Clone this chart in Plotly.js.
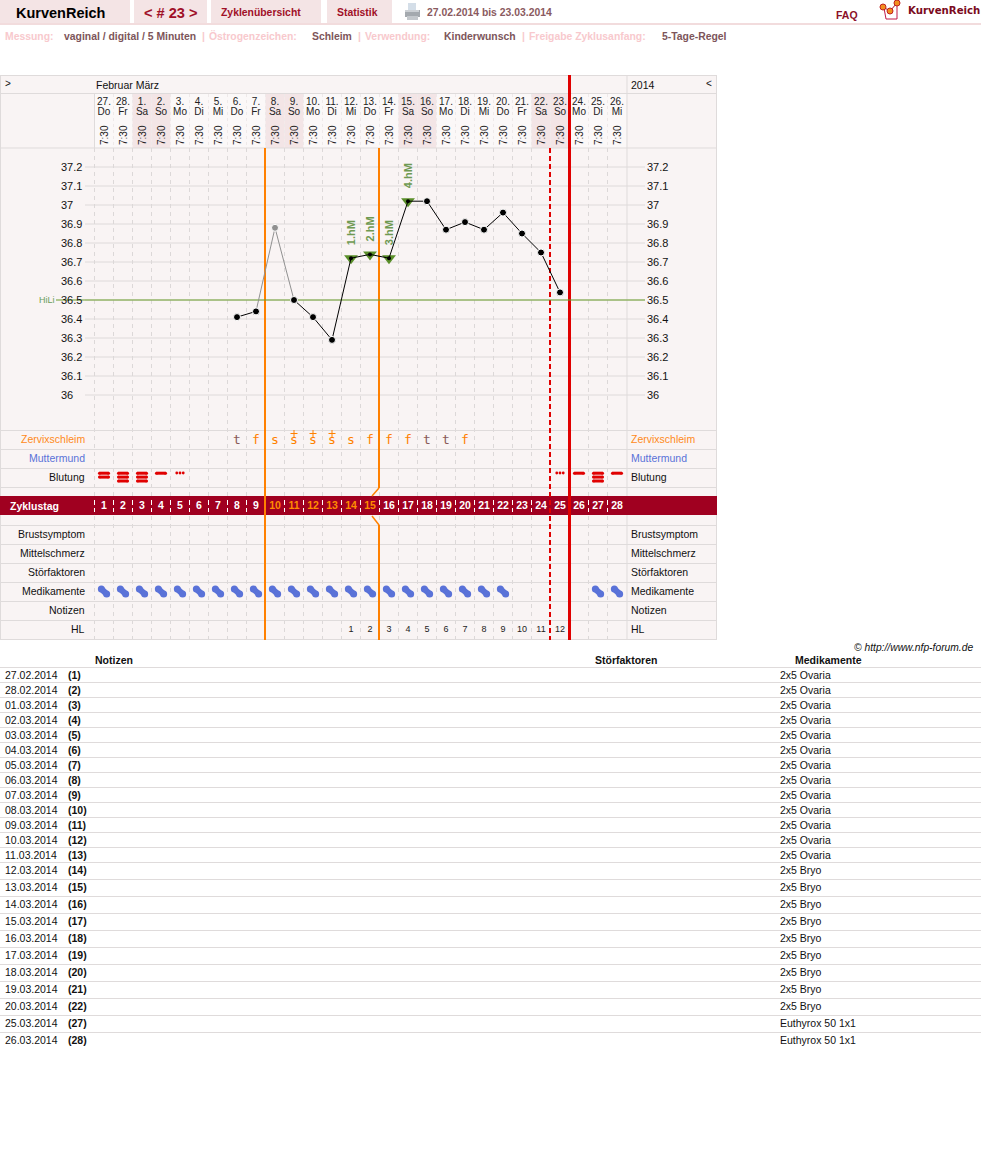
<!DOCTYPE html>
<html><head><meta charset="utf-8">
<script src="https://cdn.plot.ly/plotly-3.0.1.min.js"></script>
<style>html,body{margin:0;padding:0;background:#fff;overflow:hidden}</style>
</head><body><div id="chart" style="width:981px;height:1159px"></div>
<script>
// ---------- data ----------
const dayDates=["27.","28.","1.","2.","3.","4.","5.","6.","7.","8.","9.","10.","11.","12.","13.","14.","15.","16.","17.","18.","19.","20.","21.","22.","23.","24.","25.","26."];
const dayNames=["Do","Fr","Sa","So","Mo","Di","Mi","Do","Fr","Sa","So","Mo","Di","Mi","Do","Fr","Sa","So","Mo","Di","Mi","Do","Fr","Sa","So","Mo","Di","Mi"];
const cycleDays=[1,2,3,4,5,6,7,8,9,10,11,12,13,14,15,16,17,18,19,20,21,22,23,24,25,26,27,28];
const weekendDays=[3,4,10,11,17,18,24,25];
const tempDays=[8,9,11,12,13,14,15,16,17,18,19,20,21,22,23,24,25];
const tempVals=[36.41,36.44,36.50,36.41,36.29,36.72,36.74,36.72,37.02,37.02,36.87,36.91,36.87,36.96,36.85,36.75,36.54];
const excludedDays=[9,10,11];
const excludedVals=[36.44,36.88,36.50];
const tempTicks=[36,36.1,36.2,36.3,36.4,36.5,36.6,36.7,36.8,36.9,37,37.1,37.2];
const hiLi=36.5;
const hmDays=[14,15,16,17];
const hmVals=[36.72,36.74,36.72,37.02];
const hmLabels=["1.hM","2.hM","3.hM","4.hM"];
const mucusDays=[8,9,10,11,12,13,14,15,16,17,18,19,20];
const mucusSigns=["t","f","s","s","s","s","s","f","f","f","t","t","f"];
const mucusPlusDays=[11,12,13];
const bleedDays=[1,2,3,4,5,25,26,27,28];
const bleedLevels=[2,3,3,1,0,0,1,3,1];
const medDays=[1,2,3,4,5,6,7,8,9,10,11,12,13,14,15,16,17,18,19,20,21,22,27,28];
const hlDays=[14,15,16,17,18,19,20,21,22,23,24,25];
const hlNums=[1,2,3,4,5,6,7,8,9,10,11,12];
const leftRows=["Brustsymptom","Mittelschmerz","Störfaktoren","Medikamente","Notizen","HL"];
const noteDates=["27.02.2014","28.02.2014","01.03.2014","02.03.2014","03.03.2014","04.03.2014","05.03.2014","06.03.2014","07.03.2014","08.03.2014","09.03.2014","10.03.2014","11.03.2014","12.03.2014","13.03.2014","14.03.2014","15.03.2014","16.03.2014","17.03.2014","18.03.2014","19.03.2014","20.03.2014","25.03.2014","26.03.2014"];
const noteNums=[1,2,3,4,5,6,7,8,9,10,11,12,13,14,15,16,17,18,19,20,21,22,27,28];
const noteMeds=["2x5 Ovaria","2x5 Ovaria","2x5 Ovaria","2x5 Ovaria","2x5 Ovaria","2x5 Ovaria","2x5 Ovaria","2x5 Ovaria","2x5 Ovaria","2x5 Ovaria","2x5 Ovaria","2x5 Ovaria","2x5 Ovaria","2x5 Bryo","2x5 Bryo","2x5 Bryo","2x5 Bryo","2x5 Bryo","2x5 Bryo","2x5 Bryo","2x5 Bryo","2x5 Bryo","Euthyrox 50 1x1","Euthyrox 50 1x1"];

// ---------- geometry: one pair of axes (cycle day / temperature) spanning the page ----------
const W=981,H=1159,COL=19,X0=94.5,PXT=190,Y36=395;
const xd=p=>0.5+(p-X0)/COL;       // page px -> cycle day units
const yt=p=>36+(Y36-p)/PXT;       // page px -> temperature units
const dx=d=>X0+(d-0.5)*COL;
const SANS='"Liberation Sans",Arial,sans-serif', NARROW='"Liberation Sans Narrow","Liberation Sans",Arial,sans-serif';
const shapes=[],annos=[],traces=[];
function rect(x0,y0,x1,y1,fill){shapes.push({type:'rect',layer:'below',x0:xd(x0),x1:xd(x1),y0:yt(y0),y1:yt(y1),fillcolor:fill,line:{width:0}});}
function line(x0,y0,x1,y1,color,w,dash){shapes.push({type:'line',layer:'below',x0:xd(x0),x1:xd(x1),y0:yt(y0),y1:yt(y1),line:{color:color,width:w||1,dash:dash||'solid'}});}
function txt(x,y,s,o){o=o||{};annos.push({x:xd(x),y:yt(y),text:s,showarrow:false,xanchor:o.a||'left',yanchor:'middle',borderpad:0,borderwidth:0,textangle:o.r||0,
  font:{family:o.f||SANS,size:o.s||11,color:o.c||'#111',weight:o.b?'bold':'normal',style:o.i?'italic':'normal'}});}
function textTrace(xs,ys,ts,color,size,fam,bold){traces.push({type:'scatter',mode:'text',x:xs,y:ys,text:ts,textposition:'middle center',hoverinfo:'skip',showlegend:false,cliponaxis:false,
  textfont:{family:fam||SANS,size:size,color:color,weight:bold?'bold':'normal'}});}

// ---------- page header ----------
const TAB='#f4e4e5',BRAND='#a01028',SOFT='#f8c9cd',VAL='#7d555a';
[[0,130],[134,207],[211,321],[327,392]].forEach(t=>rect(t[0],0,t[1],23,TAB));
rect(0,23,W,25,'#f2dcdd');
txt(16,13,'KurvenReich',{s:14.5,b:1,c:'#000'});
txt(144,12.5,'&lt; # 23 &gt;',{s:14.6,b:1,c:BRAND});
txt(221,12,'Zyklenübersicht',{s:10.4,b:1,c:BRAND});
txt(337,12,'Statistik',{s:10.4,b:1,c:BRAND});
txt(427,12.5,'27.02.2014 bis 23.03.2014',{s:10.4,b:1,c:'#8a5a60'});
txt(836,14.5,'FAQ',{s:10.5,b:1,c:'#8c1028'});
txt(908,10,'KurvenReich',{s:10.2,b:1,c:'#7a0a20',f:'"DejaVu Sans",Verdana,sans-serif'});
[[5,'Messung:',1],[64,'vaginal / digital / 5 Minuten',0],[202,'|',1],[209,'Östrogenzeichen:',1],[312,'Schleim',0],[358,'|',1],[365,'Verwendung:',1],[444,'Kinderwunsch',0],[522,'|',1],[529,'Freigabe Zyklusanfang:',1],[662,'5-Tage-Regel',0]]
  .forEach(r=>txt(r[0],36,r[1],{s:10.4,b:1,c:r[2]?SOFT:VAL}));
// printer icon
rect(408,3,416,10,'#d4dee8'); rect(405,10,420,17,'#a4a9ae'); rect(407,16,418,20,'#c4c8cc'); rect(405,10,419,12,'#ccd0d4');
// logo icon
shapes.push({type:'path',layer:'below',path:`M ${xd(884)} ${yt(8)} L ${xd(886)} ${yt(19)} L ${xd(897)} ${yt(19)} L ${xd(897)} ${yt(4)}`,line:{color:'#c01848',width:1},fillcolor:'rgba(0,0,0,0)'});
traces.push({type:'scatter',mode:'lines+markers',x:[883,890,897].map(xd),y:[7,11,3].map(yt),line:{color:'#a01028',width:1},marker:{size:6,color:'#f09020',line:{color:'#c02020',width:1}},hoverinfo:'skip',showlegend:false,cliponaxis:false});

// ---------- chart frame ----------
const BG='#f9f4f4',GRID='#dfdbdb',TOPB=75,BOT=640;
rect(0,TOPB,717,BOT,BG);
cycleDays.forEach(d=>{rect(dx(d-.5),94,dx(d+.5),148,weekendDays.includes(d)?'#f3e5e6':'#fbf8f8');});
cycleDays.slice(1).forEach(d=>line(dx(d-.5),94,dx(d-.5),148,'#eee9e9',1,'3px,3px'));
// temperature grid
tempTicks.forEach(t=>shapes.push({type:'line',layer:'below',x0:xd(85),x1:xd(645),y0:t,y1:t,line:{color:'#dedada',width:1}}));
// vertical day edges (dashed)
cycleDays.forEach(d=>line(dx(d-.5),148,dx(d-.5),BOT,'#dcd8d8',1,'4px,4px'));
// row lines
[75.5,93.5,148,430.5,449.5,468.5,487.5,525.5,544.5,563.5,582.5,601.5,620.5,639.5].forEach(y=>line(0,y,717,y,GRID,1));
line(0.5,75,0.5,640,GRID,1); line(716.5,75,716.5,640,GRID,1);
line(627,75,627,640,GRID,1); line(94.5,94,94.5,148,GRID,1);
// cycle-day band
rect(0,496,717,515,'#a00020');
cycleDays.forEach(d=>line(dx(d-.5),500,dx(d-.5),512,'#ffffff',1,'5px,3px'));
// cycle markers
const OR='#ff8000',RED='#e00000';
line(265,148,265,BOT,OR,2);
line(379,148,379,488,OR,2); line(379,488,372,496,OR,1.5); line(372,516,379,525,OR,1.5); line(379,525,379,BOT,OR,2);
line(550,148,550,BOT,RED,2,'5px,3px');
line(569.5,TOPB,569.5,BOT,RED,3);
shapes.push({type:'line',layer:'below',x0:xd(56),x1:xd(645),y0:hiLi,y1:hiLi,line:{color:'#6a9e2a',width:1}});

// ---------- chart text ----------
txt(5,83,'&gt;',{s:10});
txt(96,85,'Februar März',{s:10.5});
txt(631,85,'2014',{s:10.5});
txt(706,83,'&lt;',{s:10});
textTrace(cycleDays,dayDates.map(()=>yt(102)),dayDates,'#222',10,NARROW);
textTrace(cycleDays,dayNames.map(()=>yt(112)),dayNames,'#222',10,NARROW);
cycleDays.forEach(d=>txt(dx(d),135,'7:30',{s:10,r:-90,a:'center',c:'#222'}));
tempTicks.forEach(t=>{const s=String(t);
  annos.push({x:xd(60),y:t,text:s,showarrow:false,xanchor:'left',yanchor:'middle',borderpad:0,font:{family:SANS,size:11,color:'#111'}});
  annos.push({x:xd(646),y:t,text:s,showarrow:false,xanchor:'left',yanchor:'middle',borderpad:0,font:{family:SANS,size:11,color:'#111'}});});
txt(55,300,'HiLi',{s:9,a:'right',c:'#6a9e5a'});
const ORTXT='#ff8a1a',BLUE='#5a72d8';
txt(85,438.5,'Zervixschleim',{a:'right',c:ORTXT,s:10.5}); txt(631,438.5,'Zervixschleim',{c:ORTXT,s:10.5});
txt(85,457.5,'Muttermund',{a:'right',c:BLUE,s:10.5}); txt(631,457.5,'Muttermund',{c:BLUE,s:10.5});
txt(85,476.5,'Blutung',{a:'right',s:10.5}); txt(631,476.5,'Blutung',{s:10.5});
leftRows.forEach((r,i)=>{txt(85,533.5+19*i,r,{a:'right',s:10.5}); txt(631,533.5+19*i,r,{s:10.5});});
txt(10,506,'Zyklustag',{b:1,s:10.5,c:'#fff'});
const isOr=d=>d>=10&&d<=15;
textTrace(cycleDays.filter(d=>!isOr(d)),cycleDays.filter(d=>!isOr(d)).map(()=>yt(506)),cycleDays.filter(d=>!isOr(d)).map(String),'#ffffff',10.5,SANS,true);
textTrace(cycleDays.filter(isOr),cycleDays.filter(isOr).map(()=>yt(506)),cycleDays.filter(isOr).map(String),'#ff8c00',10.5,SANS,true);
textTrace(mucusDays,mucusDays.map(()=>yt(441)),mucusSigns,mucusSigns.map(s=>s==='t'?'#8a5a5a':OR),13,'"DejaVu Sans Mono",monospace');
traces.push({type:'scatter',mode:'markers',x:mucusPlusDays,y:mucusPlusDays.map(()=>yt(433.5)),marker:{symbol:'cross-thin',size:5,line:{color:OR,width:1}},hoverinfo:'skip',showlegend:false});
textTrace(hlDays,hlDays.map(()=>yt(629.5)),hlNums.map(String),'#222',9,SANS);
hmDays.forEach((d,i)=>annos.push({x:d,y:hmVals[i],yshift:25,text:hmLabels[i],showarrow:false,textangle:-90,borderpad:0,xanchor:'center',yanchor:'middle',font:{family:SANS,size:11,weight:'bold',color:'#6f9a52'}}));

// ---------- bleeding marks ----------
const barX=[],barY=[],dotX=[],dotY=[];
bleedDays.forEach((d,i)=>{const n=bleedLevels[i];
  if(n===0){[-.17,0,.17].forEach(o=>{dotX.push(d+o);dotY.push(yt(473));});}
  for(let k=0;k<n;k++){const y=yt(473.2+k*3.9);barX.push(d-.24,d+.24,null);barY.push(y,y,null);}
});
traces.push({type:'scatter',mode:'lines+markers',x:barX,y:barY,line:{color:RED,width:3},marker:{color:RED,size:3},hoverinfo:'skip',showlegend:false});
traces.push({type:'scatter',mode:'markers',x:dotX,y:dotY,marker:{color:RED,size:2.8},hoverinfo:'skip',showlegend:false});

// ---------- medication pills ----------
const pillX=[],pillY=[];
medDays.forEach(d=>{pillX.push(d-.14,d+.14,null);pillY.push(yt(589),yt(594),null);});
traces.push({type:'scatter',mode:'lines+markers',x:pillX,y:pillY,line:{color:'#5a72d8',width:6},marker:{size:7,color:'#5a72d8'},hoverinfo:'skip',showlegend:false});

// ---------- temperature curve ----------
const X=[],Y=[],S=[];
tempDays.forEach((x,i)=>{if(i&&x-tempDays[i-1]>1){X.push(null);Y.push(null);S.push(0);}X.push(x);Y.push(tempVals[i]);S.push(hmDays.includes(x)?0:7);});
traces.push({type:'scatter',mode:'lines+markers',x:excludedDays,y:excludedVals,line:{color:'#909090',width:1},marker:{color:'#909090',size:[0,7,0],opacity:1},hoverinfo:'skip',showlegend:false});
traces.push({type:'scatter',mode:'markers',x:hmDays,y:hmVals,marker:{symbol:'triangle-down',color:'#5a8f2a',size:12},hoverinfo:'skip',showlegend:false});
traces.push({type:'scatter',mode:'lines+markers',x:X,y:Y,line:{color:'#000',width:1},marker:{color:'#000',size:S,opacity:1},hoverinfo:'skip',showlegend:false});
traces.push({type:'scatter',mode:'markers',x:hmDays,y:hmVals,marker:{color:'#000',size:4},hoverinfo:'skip',showlegend:false});

// ---------- notes table ----------
txt(973,647,'© http://www.nfp-forum.de',{a:'right',i:1,s:10.3});
txt(95,660,'Notizen',{b:1,s:10.5}); txt(595,660,'Störfaktoren',{b:1,s:10.5}); txt(795,660,'Medikamente',{b:1,s:10.5});
let yTop=667;
line(0,yTop+.5,W,yTop+.5,GRID,1);
noteDates.forEach((dt,i)=>{const h=i<13?15:17;const yc=yTop+h/2+(i<13?.5:-.5);
  txt(5,yc,dt,{s:10.5}); txt(68,yc,'('+noteNums[i]+')',{s:10.5,b:1}); txt(780,yc,noteMeds[i],{s:10.5});
  yTop+=h; if(i<noteDates.length-1) line(0,yTop+.5,W,yTop+.5,GRID,1);});

Plotly.newPlot('chart',traces,{
  width:W,height:H,margin:{l:0,r:0,t:0,b:0},paper_bgcolor:'#fff',plot_bgcolor:'rgba(0,0,0,0)',showlegend:false,
  xaxis:{range:[xd(0),xd(W)],visible:false,fixedrange:true},
  yaxis:{range:[yt(H),yt(0)],visible:false,fixedrange:true},
  shapes:shapes,annotations:annos,hovermode:false
},{staticPlot:true,displayModeBar:false});
</script></body></html>
